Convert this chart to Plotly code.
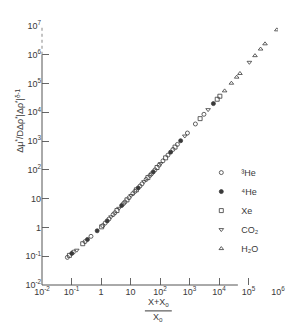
import plotly.graph_objects as go

# ---- data (x = (X+X0)/X0, y = Δμ*/DΔρ*|Δρ*|^(δ-1)) ----
he3_x = [0.0724, 0.115, 0.288, 0.457, 1.15, 1.38, 1.86, 2.57, 2.95, 5.75, 6.46, 8.91, 12.0, 14.1,
         20.9, 24.5, 33.9, 45.7, 51.3, 67.6, 93.3, 126, 186, 275, 389, 851, 1585, 3090]
he3_y = [0.0912, 0.139, 0.322, 0.491, 1.16, 1.42, 1.96, 2.79, 3.24, 6.71, 7.62, 10.8, 15.0, 17.9,
         27.4, 32.7, 46.5, 64.4, 73.1, 100, 146, 206, 326, 514, 767, 1910, 3940, 8550]

he4_x = [0.102, 0.347, 0.741, 1.62, 5.01, 18.2, 58.9, 229, 501, 6460]
he4_y = [0.125, 0.382, 0.764, 1.69, 5.78, 23.6, 85.1, 414, 1030, 20100]

xe_x = [0.0851, 0.240, 1.05, 3.47, 7.59, 15.8, 38.9, 79.4, 155, 324, 2290, 8710, 10700]
xe_y = [0.107, 0.272, 1.05, 3.86, 9.08, 20.3, 54.1, 121, 262, 620, 6040, 28500, 36300]

co2_x = [0.151, 2.19, 4.07, 10.5, 28.8, 105, 692, 4270, 107000]
co2_y = [0.162, 2.34, 4.61, 12.9, 39.0, 166, 1500, 12400, 547000]

h2o_x = [15500, 26300, 39800, 51300, 166000, 257000, 363000, 912000]
h2o_y = [55700, 103000, 167000, 224000, 931000, 1580000, 2400000, 7350000]

x_tickvals = [1e-2, 1e-1, 1, 10, 1e2, 1e3, 1e4, 1e5, 1e6]
x_ticktext = ["10<sup>-2</sup>", "10<sup>-1</sup>", "1", "10", "10<sup>2</sup>", "10<sup>3</sup>",
              "10<sup>4</sup>", "10<sup>5</sup>", "10<sup>6</sup>"]
y_tickvals = [1e-2, 1e-1, 1, 10, 1e2, 1e3, 1e4, 1e5, 1e6, 1e7]
y_ticktext = ["10<sup>-2</sup>", "10<sup>-1</sup>", "1", "10", "10<sup>2</sup>", "10<sup>3</sup>",
              "10<sup>4</sup>", "10<sup>5</sup>", "10<sup>6</sup>", "10<sup>7</sup>"]

INK = "#3a3a3a"
FONT = "Liberation Sans"

fig = go.Figure()

def add(name, xs, ys, symbol):
    fig.add_trace(go.Scatter(
        x=xs, y=ys, mode="markers", name=name,
        marker=dict(symbol=symbol, size=4, color=INK, line=dict(color=INK, width=0.8)),
    ))

add("³He", he3_x, he3_y, "circle-open")
add("⁴He", he4_x, he4_y, "circle")
add("Xe", xe_x, xe_y, "square-open")
add("CO₂", co2_x, co2_y, "triangle-down-open")
add("H₂O", h2o_x, h2o_y, "triangle-up-open")

# the page adds an 8px body margin, so the figure is laid out 8px up/left of the reference
fig.update_layout(
    width=300, height=322,
    margin=dict(l=34, r=30, t=18, b=45),
    paper_bgcolor="white", plot_bgcolor="white",
    font=dict(family=FONT, size=9, color=INK),
    showlegend=True,
    legend=dict(x=0.675, y=0.49, xanchor="left", yanchor="top",
                bgcolor="rgba(0,0,0,0)", font=dict(size=9, color=INK),
                itemwidth=30, tracegroupgap=0),
    xaxis=dict(type="log", range=[-2, 6], showgrid=False, zeroline=False, showline=False,
               ticks="inside", ticklen=7, tickcolor="#666", tickwidth=1,
               tickvals=x_tickvals, ticktext=x_ticktext, tickfont=dict(size=9, color=INK)),
    yaxis=dict(type="log", range=[-2, 7], showgrid=False, zeroline=False, showline=False,
               ticks="inside", ticklen=7, tickcolor="#666", tickwidth=1,
               tickvals=y_tickvals, ticktext=y_ticktext, tickfont=dict(size=9, color=INK)),
)

# axis lines (the y axis is dotted above 10^6, the x axis stops short of 10^5)
fig.add_shape(type="line", xref="paper", yref="paper", x0=0, x1=0, y0=0, y1=8/9,
              line=dict(color="#555", width=1))
fig.add_shape(type="line", xref="paper", yref="paper", x0=0, x1=0, y0=8/9, y1=1,
              line=dict(color="#888", width=1, dash="dot"))
fig.add_shape(type="line", xref="paper", yref="paper", x0=0, x1=0.83, y0=0, y1=0,
              line=dict(color="#555", width=1))

# y-axis title
fig.add_annotation(xref="paper", yref="paper", x=-0.097, y=0.635, textangle=-90, showarrow=False,
                   xanchor="center", yanchor="middle",
                   text="Δμ<sup>*</sup>/DΔρ<sup>*</sup>|Δρ<sup>*</sup>|<sup>δ-1</sup>",
                   font=dict(size=9, color=INK))
# x-axis title as a fraction
fig.add_annotation(xref="paper", yref="paper", x=0.492, y=-0.066, showarrow=False,
                   xanchor="center", yanchor="middle",
                   text="X+X<sub>o</sub>", font=dict(size=9, color=INK))
fig.add_shape(type="line", xref="paper", yref="paper", x0=0.436, x1=0.55, y0=-0.100, y1=-0.100,
              line=dict(color=INK, width=1))
fig.add_annotation(xref="paper", yref="paper", x=0.492, y=-0.127, showarrow=False,
                   xanchor="center", yanchor="middle",
                   text="X<sub>o</sub>", font=dict(size=9, color=INK))

fig.write_html("out.html")
